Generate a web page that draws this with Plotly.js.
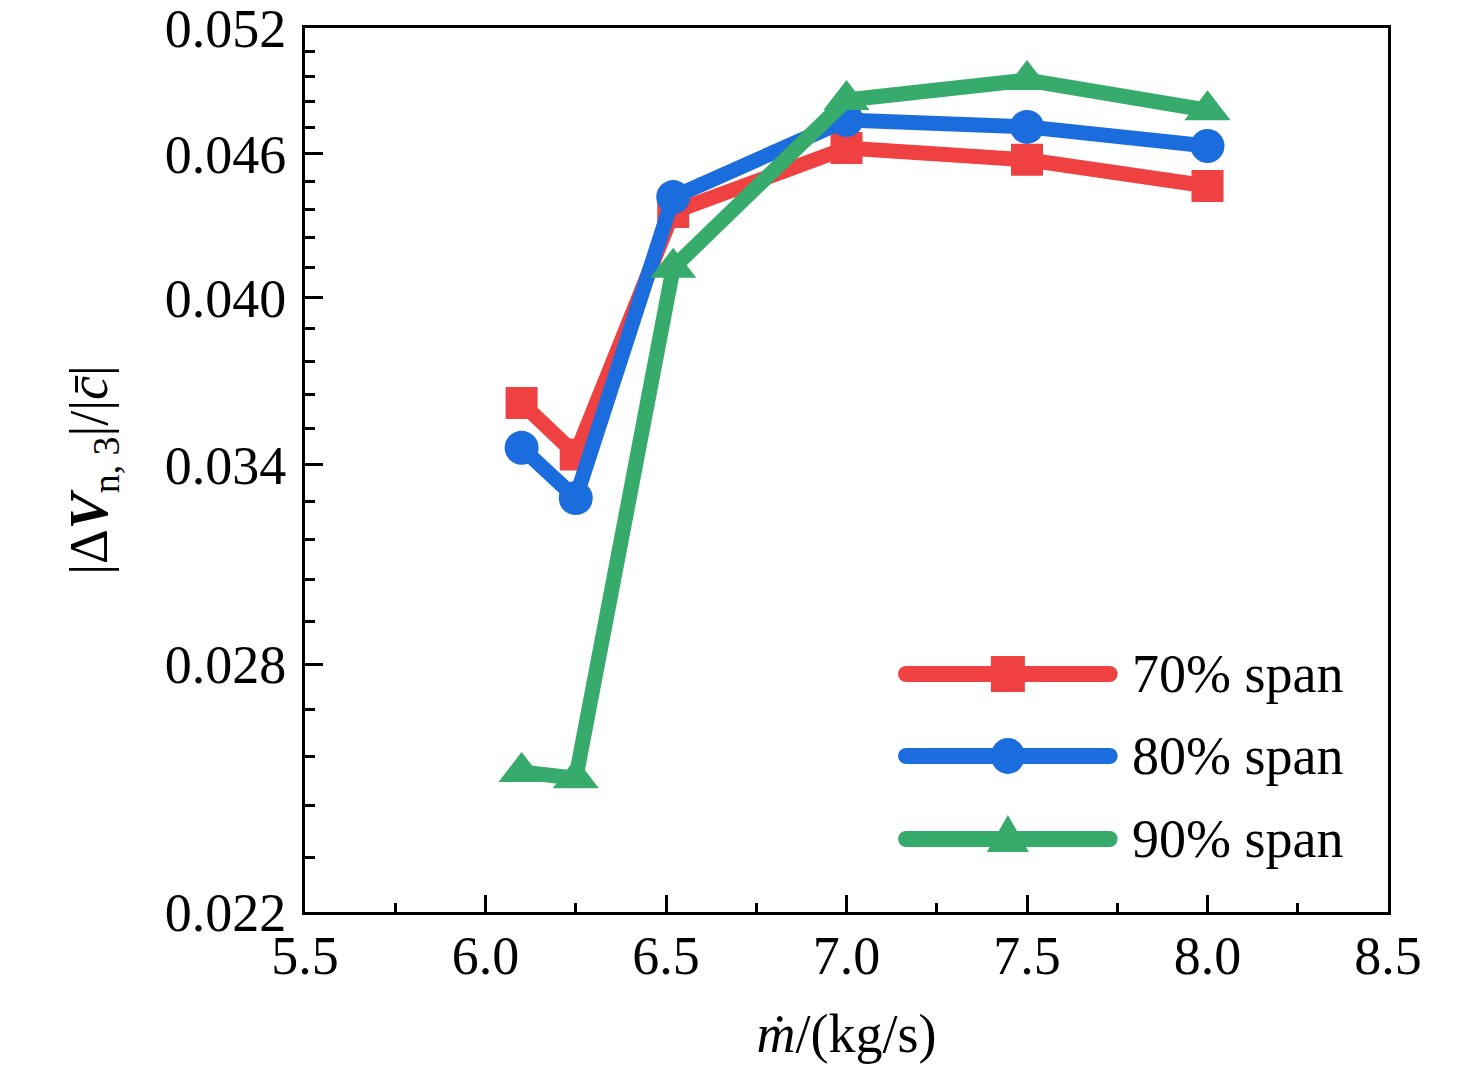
<!DOCTYPE html>
<html>
<head>
<meta charset="utf-8">
<script src="https://cdn.plot.ly/plotly-3.0.1.min.js"></script>
<style>
  html, body { margin: 0; padding: 0; background: #fff; }
  #graph { width: 1476px; height: 1069px; }
</style>
</head>
<body>
<div id="graph"></div>
<script>
// mass flow, kg/s
const massFlow = [6.1, 6.25, 6.52, 7.0, 7.5, 8.0];

// |dV_n,3| / |c| at each span
const span70 = [0.0361, 0.03434, 0.04348, 0.04627, 0.04574, 0.04459];
const span80 = [0.03456, 0.03291, 0.04411, 0.04755, 0.04723, 0.04636];
const span90 = [0.02521, 0.02506, 0.04118, 0.04848, 0.04943, 0.04800];

const seriesNames = ['70% span', '80% span', '90% span'];
const seriesColors = ['#EF4141', '#1B6CDC', '#37AB6B'];
const seriesSymbols = ['square', 'circle', 'triangle-up'];

const yTicks = [0.022, 0.028, 0.034, 0.040, 0.046, 0.052];
const yTickText = ['0.022', '0.028', '0.034', '0.040', '0.046', '0.052'];

// 4 minor ticks between majors
let yMinor = [];
for (let i = 0; i < yTicks.length - 1; i++) {
  const step = (yTicks[i + 1] - yTicks[i]) / 5;
  for (let k = 1; k < 5; k++) yMinor.push(yTicks[i] + k * step);
}

const font = 'Liberation Serif, Times New Roman, serif';
const markerSizes = [32, 34, 40];

const traces = [span70, span80, span90].map((ys, i) => ({
  x: massFlow,
  y: ys,
  mode: 'lines+markers',
  name: seriesNames[i],
  line: { color: seriesColors[i], width: 15 },
  marker: { symbol: seriesSymbols[i], size: markerSizes[i], color: seriesColors[i] },
  showlegend: false
}));

// hand-made legend (plotly caps legend symbol sizes)
const legX0 = 0.555, legX1 = 0.743, legXm = 0.649, legText = 0.762;
const legRows = [0.2692, 0.1765, 0.0826];
let shapes = [];
let annotations = [];
legRows.forEach((ly, i) => {
  const c = seriesColors[i];
  shapes.push({ type: 'line', xref: 'paper', yref: 'paper', x0: legX0, x1: legX1, y0: ly, y1: ly,
                line: { color: c, width: 16 } });
  [legX0, legX1].forEach(ex => {
    shapes.push({ type: 'circle', xref: 'paper', yref: 'paper', xsizemode: 'pixel', ysizemode: 'pixel',
                  xanchor: ex, yanchor: ly, x0: -8, x1: 8, y0: -8, y1: 8,
                  fillcolor: c, line: { width: 0 } });
  });
  if (seriesSymbols[i] === 'square') {
    shapes.push({ type: 'rect', xref: 'paper', yref: 'paper', xsizemode: 'pixel', ysizemode: 'pixel',
                  xanchor: legXm, yanchor: ly, x0: -17, x1: 17, y0: -18, y1: 18,
                  fillcolor: c, line: { width: 0 } });
  } else if (seriesSymbols[i] === 'circle') {
    shapes.push({ type: 'circle', xref: 'paper', yref: 'paper', xsizemode: 'pixel', ysizemode: 'pixel',
                  xanchor: legXm, yanchor: ly, x0: -17, x1: 17, y0: -18, y1: 18,
                  fillcolor: c, line: { width: 0 } });
  } else {
    shapes.push({ type: 'path', xref: 'paper', yref: 'paper', xsizemode: 'pixel', ysizemode: 'pixel',
                  xanchor: legXm, yanchor: ly, path: 'M -21 -13 L 21 -13 L 0 24 Z',
                  fillcolor: c, line: { width: 0 } });
  }
  annotations.push({ xref: 'paper', yref: 'paper', x: legText, y: ly, xanchor: 'left', yanchor: 'middle',
                     text: seriesNames[i], showarrow: false, font: { family: font, size: 54, color: '#000' } });
});

const layout = {
  width: 1476,
  height: 1069,
  margin: { l: 305, r: 88, t: 28, b: 157 },
  paper_bgcolor: '#fff',
  plot_bgcolor: '#fff',
  font: { family: font, size: 54, color: '#000' },
  showlegend: false,
  xaxis: {
    range: [5.5, 8.5],
    dtick: 0.5,
    tick0: 5.5,
    tickformat: '.1f',
    ticks: 'inside',
    ticklen: 17,
    tickwidth: 3,
    tickcolor: '#000',
    minor: { dtick: 0.25, ticks: 'inside', ticklen: 9, tickwidth: 3, tickcolor: '#000' },
    showline: true,
    linewidth: 3,
    linecolor: '#000',
    mirror: true,
    showgrid: false,
    zeroline: false,
    tickfont: { family: font, size: 54 },
    ticklabelstandoff: -6,
    ticklabeloverflow: 'allow',
    title: { text: '<i>ṁ</i>/(kg/s)', font: { family: font, size: 54 }, standoff: 30 }
  },
  yaxis: {
    type: 'log',
    // tiny pad so the 0.052 tick is kept at the edge
    range: [Math.log10(0.022) - 1e-7, Math.log10(0.052) + 1e-7],
    tickmode: 'array',
    tickvals: yTicks,
    ticktext: yTickText,
    ticks: 'inside',
    ticklen: 18,
    tickwidth: 3,
    tickcolor: '#000',
    minor: { tickmode: 'array', tickvals: yMinor, ticks: 'inside', ticklen: 10, tickwidth: 3, tickcolor: '#000' },
    showline: true,
    linewidth: 3,
    linecolor: '#000',
    mirror: true,
    showgrid: false,
    zeroline: false,
    tickfont: { family: font, size: 54 },
    ticklabelstandoff: 5,
    ticklabeloverflow: 'allow',
    title: { text: '|Δ<b><i>V</i></b><sub>n, 3</sub>|/|<i>c̄</i>|', font: { family: font, size: 54 }, standoff: 40 }
  },
  shapes: shapes,
  annotations: annotations
};

Plotly.newPlot('graph', traces, layout, { displayModeBar: false, staticPlot: true });
</script>
</body>
</html>
